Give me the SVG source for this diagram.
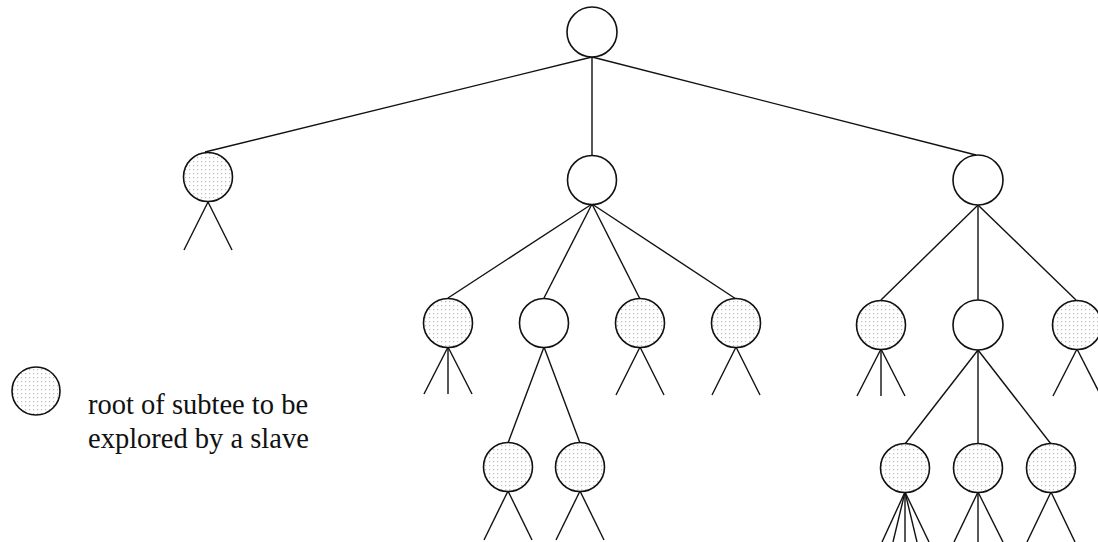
<svg xmlns="http://www.w3.org/2000/svg" width="1098" height="542" viewBox="0 0 1098 542">
<defs>
<pattern id="dots" width="4" height="4" patternUnits="userSpaceOnUse">
<rect width="4" height="4" fill="#ffffff"/>
<rect x="1" y="1" width="1.2" height="1.2" fill="#bdbdbd"/>
</pattern>
</defs>
<style>
.n{fill:#ffffff;stroke:#111;stroke-width:1.6}
.s{fill:url(#dots);stroke:#111;stroke-width:1.6}
.e line{stroke:#111;stroke-width:1.4}
text{font-family:"Liberation Serif","Times New Roman",serif;font-size:28.5px;fill:#111}
</style>
<rect width="1098" height="542" fill="#ffffff"/>
<g class="e" id="connectors">
<line x1="592" y1="57" x2="205" y2="152"/>
<line x1="592" y1="57" x2="592" y2="156"/>
<line x1="592" y1="57" x2="976" y2="155"/>
<line x1="208" y1="202" x2="184" y2="250"/>
<line x1="208" y1="202" x2="232" y2="250"/>
<line x1="592" y1="204" x2="448" y2="298"/>
<line x1="592" y1="204" x2="544" y2="298"/>
<line x1="592" y1="204" x2="640" y2="299"/>
<line x1="592" y1="204" x2="736" y2="299"/>
<line x1="978" y1="205" x2="881" y2="300"/>
<line x1="978" y1="205" x2="978" y2="300"/>
<line x1="978" y1="205" x2="1076" y2="300"/>
<line x1="448" y1="347" x2="424" y2="394"/>
<line x1="448" y1="347" x2="448" y2="394"/>
<line x1="448" y1="347" x2="472" y2="394"/>
<line x1="544" y1="347" x2="508" y2="443"/>
<line x1="544" y1="347" x2="580" y2="443"/>
<line x1="640" y1="347" x2="616" y2="395"/>
<line x1="640" y1="347" x2="664" y2="395"/>
<line x1="736" y1="347" x2="712" y2="395"/>
<line x1="736" y1="347" x2="760" y2="395"/>
<line x1="881" y1="349" x2="857" y2="396"/>
<line x1="881" y1="349" x2="881" y2="396"/>
<line x1="881" y1="349" x2="905" y2="396"/>
<line x1="978" y1="350" x2="905" y2="444"/>
<line x1="978" y1="350" x2="978" y2="444"/>
<line x1="978" y1="350" x2="1051" y2="444"/>
<line x1="1077" y1="349" x2="1053" y2="396"/>
<line x1="1077" y1="349" x2="1101" y2="396"/>
<line x1="508" y1="491" x2="484" y2="540"/>
<line x1="508" y1="491" x2="532" y2="540"/>
<line x1="580" y1="491" x2="556" y2="540"/>
<line x1="580" y1="491" x2="604" y2="540"/>
<line x1="905" y1="492" x2="882" y2="542"/>
<line x1="905" y1="492" x2="893" y2="542"/>
<line x1="905" y1="492" x2="905" y2="542"/>
<line x1="905" y1="492" x2="917" y2="542"/>
<line x1="905" y1="492" x2="929" y2="542"/>
<line x1="978" y1="492" x2="954" y2="542"/>
<line x1="978" y1="492" x2="978" y2="542"/>
<line x1="978" y1="492" x2="1003" y2="542"/>
<line x1="1051" y1="492" x2="1027" y2="542"/>
<line x1="1051" y1="492" x2="1075" y2="542"/>
</g>
<g id="root"><circle class="n" cx="592" cy="32" r="25"/></g>
<g id="n1"><circle class="s" cx="208" cy="177" r="24.5"/></g>
<g id="n2"><circle class="n" cx="592" cy="180" r="24.5"/></g>
<g id="n3"><circle class="n" cx="978" cy="180" r="25"/></g>
<g id="n21"><circle class="s" cx="448" cy="323" r="24.5"/></g>
<g id="n22"><circle class="n" cx="544" cy="323" r="24.5"/></g>
<g id="n23"><circle class="s" cx="640" cy="323" r="24.5"/></g>
<g id="n24"><circle class="s" cx="736" cy="323" r="24.5"/></g>
<g id="n31"><circle class="s" cx="881" cy="325" r="24.5"/></g>
<g id="n32"><circle class="n" cx="978" cy="325" r="25"/></g>
<g id="n33"><circle class="s" cx="1077" cy="325" r="24.5"/></g>
<g id="n221"><circle class="s" cx="508" cy="467" r="24.5"/></g>
<g id="n222"><circle class="s" cx="580" cy="467" r="24.5"/></g>
<g id="n321"><circle class="s" cx="905" cy="468" r="24.5"/></g>
<g id="n322"><circle class="s" cx="978" cy="468" r="24.5"/></g>
<g id="n323"><circle class="s" cx="1051" cy="468" r="24.5"/></g>
<g id="legend">
<circle class="s" cx="36" cy="391" r="24"/>
<text x="88" y="414">root of subtee to be</text>
<text x="88" y="448">explored by a slave</text>
</g>
</svg>
